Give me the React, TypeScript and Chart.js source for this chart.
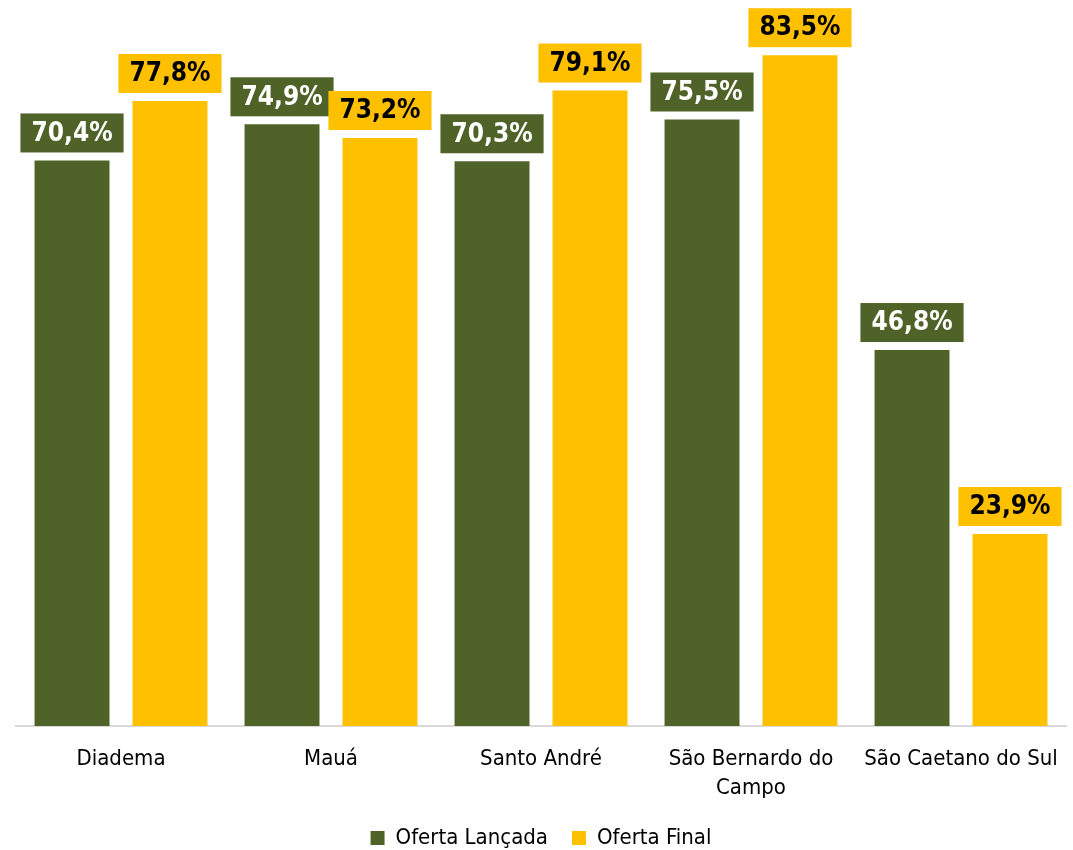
import React, { useEffect, useRef } from "react";
import { Chart, registerables } from "chart.js";

Chart.register(...registerables);

const categories: (string | string[])[] = [
  "Diadema",
  "Mauá",
  "Santo André",
  ["São Bernardo do", "Campo"],
  "São Caetano do Sul",
];
const ofertaLancada = [70.4, 74.9, 70.3, 75.5, 46.8];
const ofertaFinal = [77.8, 73.2, 79.1, 83.5, 23.9];
const seriesNames = ["Oferta Lançada", "Oferta Final"];

const GREEN = "#4F6228";
const YELLOW = "#FFC000";
const FONT = "'DejaVu Sans Condensed', 'DejaVu Sans', sans-serif";

const labelPlugin = {
  id: "boxLabels",
  afterDatasetsDraw(chart: any) {
    const ctx = chart.ctx;
    ctx.save();
    ctx.font = `bold 26px ${FONT}`;
    ctx.textAlign = "center";
    ctx.textBaseline = "middle";
    chart.data.datasets.forEach((ds: any, di: number) => {
      const meta = chart.getDatasetMeta(di);
      meta.data.forEach((bar: any, i: number) => {
        const v = ds.data[i] as number;
        const txt = v.toFixed(1).replace(".", ",") + "%";
        const w = ctx.measureText(txt).width + 22;
        const h = 39;
        const bottom = bar.y - 8;
        ctx.fillStyle = di === 0 ? GREEN : YELLOW;
        ctx.fillRect(bar.x - w / 2, bottom - h, w, h);
        ctx.fillStyle = di === 0 ? "#FFFFFF" : "#000000";
        ctx.fillText(txt, bar.x, bottom - h / 2 + 1);
      });
    });
    ctx.restore();
  },
};

export default function App() {
  const ref = useRef<HTMLCanvasElement | null>(null);
  useEffect(() => {
    if (!ref.current) return;
    const chart = new Chart(ref.current, {
      type: "bar",
      data: {
        labels: categories as any,
        datasets: [
          {
            label: seriesNames[0],
            data: ofertaLancada,
            backgroundColor: GREEN,
            barPercentage: 0.765,
            categoryPercentage: 0.933,
          },
          {
            label: seriesNames[1],
            data: ofertaFinal,
            backgroundColor: YELLOW,
            barPercentage: 0.765,
            categoryPercentage: 0.933,
          },
        ],
      },
      options: {
        responsive: false,
        animation: false,
        layout: { padding: { top: 3, left: 16, right: 7, bottom: 0 } },
        scales: {
          x: {
            grid: { display: false, drawTicks: false },
            border: { display: true, color: "#D9D9D9", width: 2 },
            ticks: {
              color: "#000000",
              font: { family: FONT, size: 22, lineHeight: 29 / 22 },
              padding: 19,
              maxRotation: 0,
              autoSkip: false,
            },
            afterFit: (s: any) => {
              s.height = 77;
              s.paddingLeft = 0;
              s.paddingRight = 0;
            },
          },
          y: {
            display: false,
            min: 0,
            max: 90,
          },
        },
        plugins: {
          legend: {
            position: "bottom",
            maxHeight: 47,
            labels: {
              color: "#000000",
              font: { family: FONT, size: 22 },
              boxWidth: 14,
              boxHeight: 14,
              padding: 24,
            },
          },
          tooltip: { enabled: false },
        },
      },
      plugins: [labelPlugin],
    });
    return () => chart.destroy();
  }, []);
  return (
    <div style={{ position: "fixed", left: 0, top: 0, width: 1073, height: 850, background: "#fff" }}>
      <canvas ref={ref} width={1073} height={850} />
    </div>
  );
}
